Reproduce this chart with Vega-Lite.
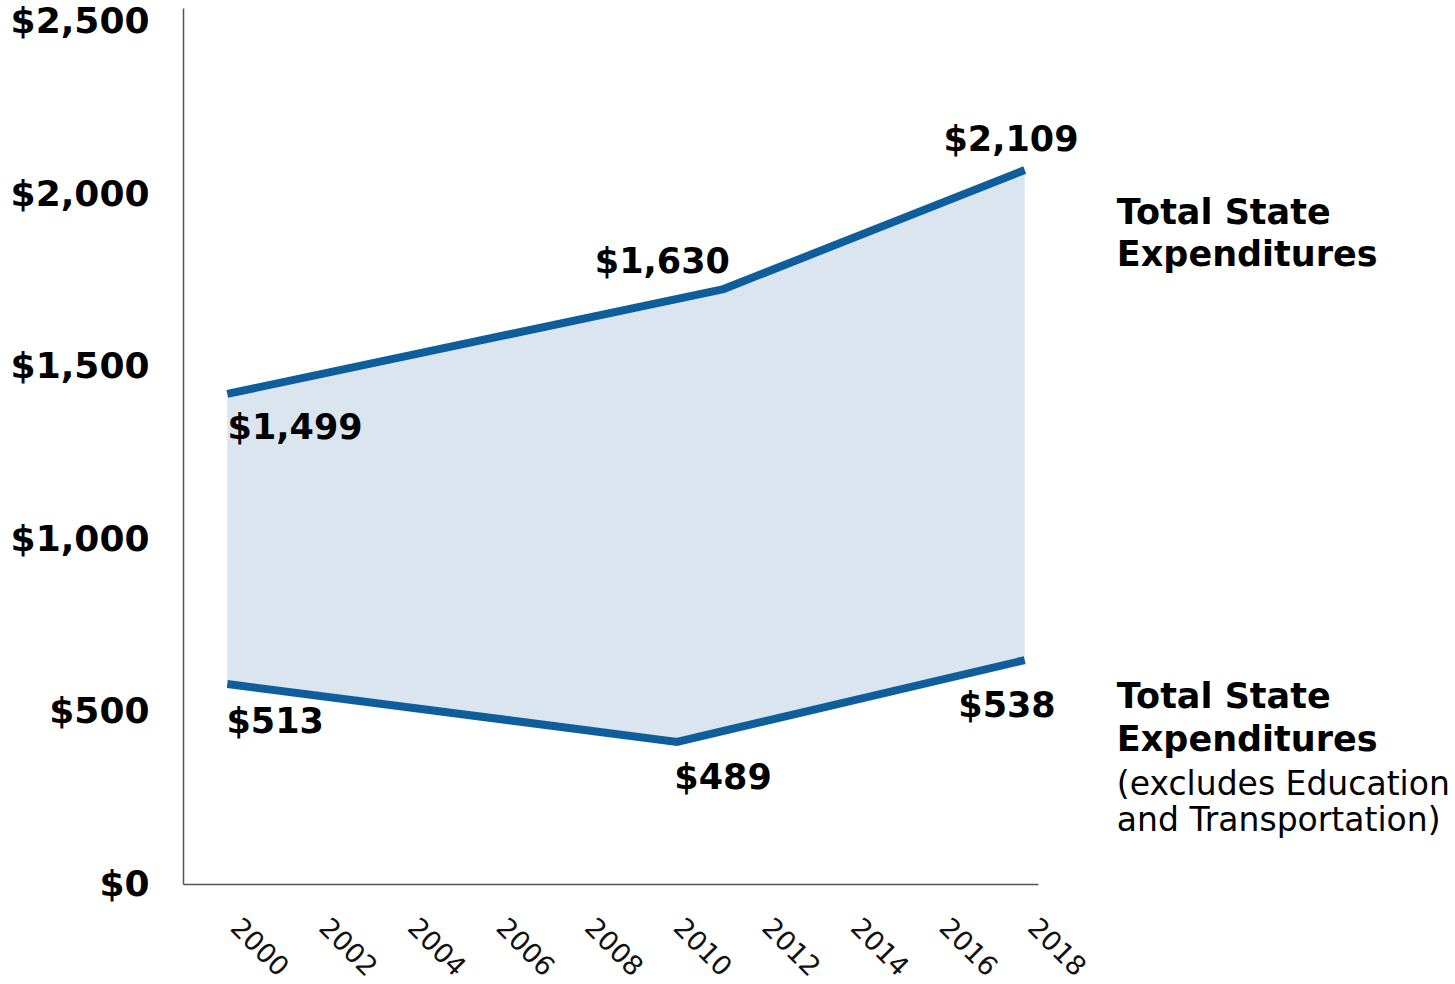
{
  "$schema": "https://vega.github.io/schema/vega-lite/v6.json",
  "autosize": "none",
  "width": 855,
  "height": 876,
  "padding": {"left": 183, "top": 8, "right": 417, "bottom": 100},
  "background": "white",
  "config": {
    "view": {"stroke": null},
    "font": "DejaVu Sans"
  },
  "datasets": {
    "upper": [
      {"year": 2000, "value": 1421},
      {"year": 2011.2, "value": 1725},
      {"year": 2018, "value": 2070}
    ],
    "lower": [
      {"year": 2000, "value": 580},
      {"year": 2010.15, "value": 412},
      {"year": 2018, "value": 649}
    ],
    "valueLabels": [
      {"year": 2001.53, "value": 1322, "label": "$1,499"},
      {"year": 2009.82, "value": 1803, "label": "$1,630"},
      {"year": 2017.69, "value": 2157, "label": "$2,109"},
      {"year": 2001.08, "value": 470, "label": "$513"},
      {"year": 2011.19, "value": 307, "label": "$489"},
      {"year": 2017.6, "value": 516, "label": "$538"}
    ],
    "legendTitles": [
      {"year": 2020.08, "value": 1946, "label": "Total State"},
      {"year": 2020.08, "value": 1824, "label": "Expenditures"},
      {"year": 2020.08, "value": 542, "label": "Total State"},
      {"year": 2020.08, "value": 418, "label": "Expenditures"}
    ],
    "legendNotes": [
      {"year": 2020.08, "value": 288, "label": "(excludes Education"},
      {"year": 2020.08, "value": 183, "label": "and Transportation)"}
    ]
  },
  "encoding": {
    "x": {
      "field": "year",
      "type": "quantitative",
      "scale": {"domain": [1999, 2018.3], "nice": false, "zero": false},
      "axis": {
        "title": null,
        "values": [2000, 2002, 2004, 2006, 2008, 2010, 2012, 2014, 2016, 2018],
        "format": "d",
        "labelAngle": 45,
        "labelAlign": "left",
        "labelBaseline": "top",
        "labelPadding": 30,
        "labelOffset": 16,
        "labelFontSize": 27,
        "labelColor": "#111",
        "labelFont": "DejaVu Sans",
        "ticks": false,
        "grid": false,
        "domainColor": "#555",
        "domainWidth": 1.5,
        "zindex": 1
      }
    },
    "y": {
      "field": "value",
      "type": "quantitative",
      "scale": {"domain": [0, 2540], "nice": false},
      "axis": {
        "title": null,
        "values": [0, 500, 1000, 1500, 2000, 2500],
        "format": "$,.0f",
        "labelFontSize": 36,
        "labelFontWeight": "bold",
        "labelColor": "#000",
        "labelPadding": 34,
        "labelFont": "DejaVu Sans",
        "ticks": false,
        "grid": false,
        "domainColor": "#555",
        "domainWidth": 1.5,
        "zindex": 1
      }
    }
  },
  "layer": [
    {
      "data": {"name": "upper"},
      "mark": {"type": "area", "color": "#dae5f0", "opacity": 1}
    },
    {
      "data": {"name": "lower"},
      "mark": {"type": "area", "color": "white", "opacity": 1, "stroke": "white", "strokeWidth": 2}
    },
    {
      "data": {"name": "upper"},
      "mark": {"type": "line", "color": "#0f5e9c", "strokeWidth": 8, "strokeCap": "butt", "strokeJoin": "miter"}
    },
    {
      "data": {"name": "lower"},
      "mark": {"type": "line", "color": "#0f5e9c", "strokeWidth": 8, "strokeCap": "butt", "strokeJoin": "miter"}
    },
    {
      "data": {"name": "valueLabels"},
      "mark": {"type": "text", "fontSize": 35, "fontWeight": "bold", "align": "center", "baseline": "middle", "color": "#000", "font": "DejaVu Sans"},
      "encoding": {"text": {"field": "label"}}
    },
    {
      "data": {"name": "legendTitles"},
      "mark": {"type": "text", "fontSize": 35, "fontWeight": "bold", "align": "left", "baseline": "middle", "color": "#000", "font": "DejaVu Sans"},
      "encoding": {"text": {"field": "label"}}
    },
    {
      "data": {"name": "legendNotes"},
      "mark": {"type": "text", "fontSize": 33, "fontWeight": "normal", "align": "left", "baseline": "middle", "color": "#000", "font": "DejaVu Sans"},
      "encoding": {"text": {"field": "label"}}
    }
  ]
}
